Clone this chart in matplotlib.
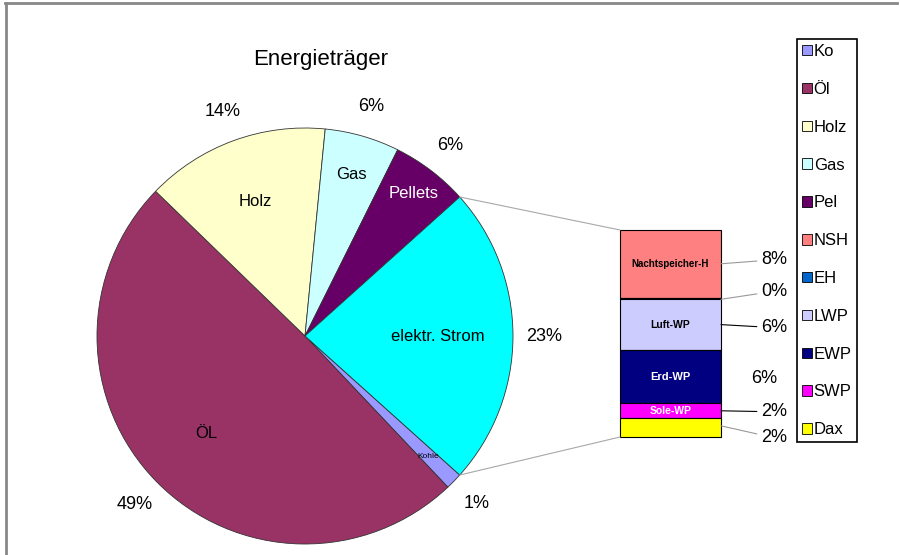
import matplotlib.pyplot as plt
import numpy as np
from matplotlib.patches import Patch, ConnectionPatch
from matplotlib.lines import Line2D

plt.rcParams['font.family'] = ['Liberation Sans', 'DejaVu Sans']

# main pie slices (percent)
pie_labels = ['Kohle', 'ÖL', 'Holz', 'Gas', 'Pellets']
pie_values = [1.3, 49.3, 14.3, 5.8, 6.0]
pie_colors = ['#9999ff', '#993366', '#ffffcc', '#ccffff', '#660066']

# the split-off slice, broken down in the bar
other_label = 'elektr. Strom'
other_color = '#00ffff'
bar_labels = ['Nachtspeicher-H', '', 'Luft-WP', 'Erd-WP', 'Sole-WP', '']
bar_values = [7.6, 0.2, 5.7, 6.0, 1.7, 2.1]
bar_colors = ['#ff8080', '#0066cc', '#ccccff', '#000080', '#ff00ff', '#ffff00']

legend_labels = ['Ko', 'Öl', 'Holz', 'Gas', 'Pel', 'NSH', 'EH', 'LWP', 'EWP', 'SWP', 'Dax']

W, H = 900, 555
fig = plt.figure(figsize=(W / 100, H / 100), dpi=100)

# pie: center and radius in pixels
cx, cy, r = 305, 336, 208
ax = fig.add_axes([(cx - r) / W, (H - cy - r) / H, 2 * r / W, 2 * r / H])
other = sum(bar_values)
values = pie_values + [other]
colors = pie_colors + [other_color]
start = -other / sum(values) * 360 / 2
wedges, texts, autotexts = ax.pie(
    values, colors=colors, startangle=start, counterclock=False, radius=1,
    autopct=lambda p: f'{p:.0f}%', pctdistance=1.15,
    wedgeprops=dict(edgecolor='#333333', linewidth=0.6),
    textprops=dict(fontsize=13))
ax.set_xlim(-1, 1)
ax.set_ylim(-1, 1)

# slice names inside the pie
label_radius = [0.83, 0.67, 0.69, 0.81, 0.86, 0.64]
label_colors = ['black', 'black', 'black', 'black', 'white', 'black']
label_sizes = [6, 12, 12, 12, 12, 12]
for w, name, rr, col, fs in zip(wedges, pie_labels + [other_label],
                                label_radius, label_colors, label_sizes):
    ang = np.deg2rad((w.theta1 + w.theta2) / 2)
    ax.text(rr * np.cos(ang), rr * np.sin(ang), name, color=col, fontsize=fs,
            ha='center', va='center')

# stacked bar for the split-off slice
bx = fig.add_axes([620 / W, (H - 437) / H, 101 / W, 207 / H])
bx.set_xlim(0, 1)
bx.set_ylim(0, other)
bx.axis('off')
inner_colors = ['black', 'black', 'black', 'white', 'white', 'black']
inner_sizes = [7, 7, 7.5, 8, 7.5, 7]
leader_colors = ['#999999', '#999999', 'black', None, 'black', '#999999']
# label offsets in pixels (y from segment anchor)
label_dy = [4, 0, -3, -2, -1, -12]
top = other
for i, (val, col, lab) in enumerate(zip(bar_values, bar_colors, bar_labels)):
    bottom = top - val
    bx.bar(0.5, val, width=1, bottom=bottom, color=col, edgecolor='black',
           linewidth=0.8, clip_on=False)
    mid = (top + bottom) / 2
    if lab:
        bx.text(0.5, mid, lab, color=inner_colors[i], fontsize=inner_sizes[i],
                fontweight='bold', ha='center', va='center')
    # anchor for the leader line
    anchor = mid
    if i == 1:
        anchor = bottom
    if i == len(bar_values) - 1:
        anchor = bottom + val * 0.6
    lc = leader_colors[i]
    if lc is None:
        bx.annotate(f'{val:.0f}%', xy=(1, mid), xytext=(30, label_dy[i]),
                    textcoords='offset pixels', fontsize=13, ha='left', va='center',
                    annotation_clip=False)
    else:
        bx.annotate(f'{val:.0f}%', xy=(1, anchor), xytext=(40, label_dy[i] + (8 if i == 1 else 0)),
                    textcoords='offset pixels', fontsize=13, ha='left', va='center',
                    annotation_clip=False,
                    arrowprops=dict(arrowstyle='-', color=lc, lw=0.8, shrinkA=1, shrinkB=0))
    top = bottom

# connector lines pie -> bar
w_other = wedges[-1]
a_hi = max(w_other.theta1, w_other.theta2)
a_lo = min(w_other.theta1, w_other.theta2)
for ang, yb in [(a_hi, other), (a_lo, 0)]:
    a = np.deg2rad(ang)
    con = ConnectionPatch(xyA=(np.cos(a), np.sin(a)), coordsA=ax.transData,
                          xyB=(0, yb), coordsB=bx.transData,
                          color='#a8a8a8', lw=0.8)
    fig.add_artist(con)

# legend
handles = [Patch(facecolor=c, edgecolor='black', linewidth=0.6)
           for c in pie_colors + bar_colors]
leg = fig.legend(handles, legend_labels, loc='upper left',
                 bbox_to_anchor=(797 / W, 1 - 39 / H), borderaxespad=0,
                 fontsize=12, handlelength=0.6, handleheight=0.6, handletextpad=0.1,
                 labelspacing=1.37, borderpad=0.3, fancybox=False,
                 edgecolor='black', framealpha=1)
leg.get_frame().set_linewidth(1.2)

fig.text(321 / W, 1 - 60 / H, 'Energieträger', ha='center', va='center', fontsize=16)

# grey frame at top and left
fig.add_artist(Line2D([5 / W, 897 / W], [1 - 3 / H, 1 - 3 / H],
                      transform=fig.transFigure, color='#888888', lw=2))
fig.add_artist(Line2D([6 / W, 6 / W], [0, 1 - 3 / H],
                      transform=fig.transFigure, color='#888888', lw=2))

fig.savefig('out.png', dpi=100)
